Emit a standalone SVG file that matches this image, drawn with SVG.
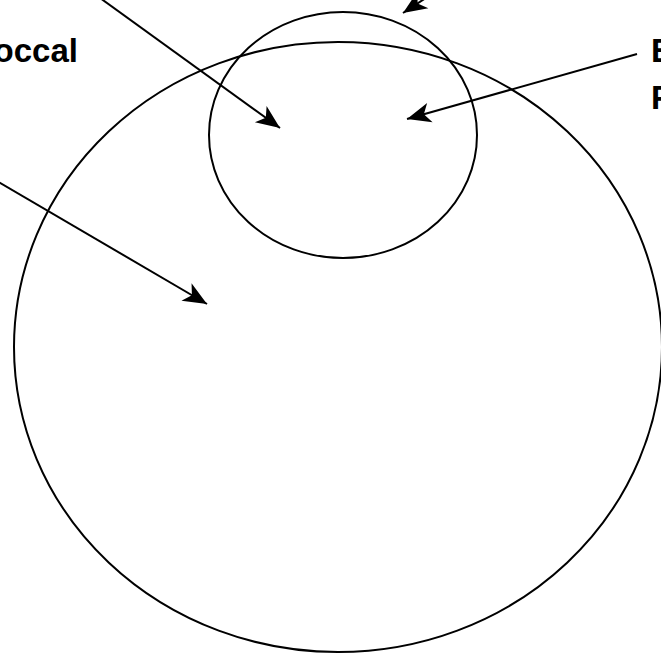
<svg xmlns="http://www.w3.org/2000/svg" width="661" height="656" viewBox="0 0 661 656">
<style>
.shape{fill:none;stroke:#000;stroke-width:2}
.arrow{fill:none;stroke:#000;stroke-width:2}
.lbl{font-family:"Liberation Sans",Arial,sans-serif;font-weight:bold;font-size:33px;fill:#000}
</style>
<defs>
<marker id="ah" markerUnits="userSpaceOnUse" markerWidth="30" markerHeight="30" viewBox="-22 -11 24 22" refX="0" refY="0" orient="auto">
<path d="M0,0 L-19,-8 L-14,0 L-19,8 Z" fill="#000"/>
</marker>
</defs>
<rect width="661" height="656" fill="#fff"/>
<g id="outer">
<ellipse class="shape" cx="338" cy="347" rx="324" ry="305"/>
</g>
<g id="inner">
<ellipse class="shape" cx="343" cy="135" rx="134" ry="123"/>
</g>
<g id="labels">
<text class="lbl" x="78" y="62" text-anchor="end">occal</text>
<text class="lbl" x="651" y="62">E</text>
<text class="lbl" x="651" y="109">F</text>
</g>
<g id="connectors">
<line class="arrow" x1="89" y1="-10" x2="280" y2="128" marker-end="url(#ah)"/>
<line class="arrow" x1="-10" y1="177" x2="207" y2="304" marker-end="url(#ah)"/>
<line class="arrow" x1="637" y1="54" x2="407" y2="119" marker-end="url(#ah)"/>
<line class="arrow" x1="441" y1="-12" x2="403" y2="13" marker-end="url(#ah)"/>
</g>
</svg>
